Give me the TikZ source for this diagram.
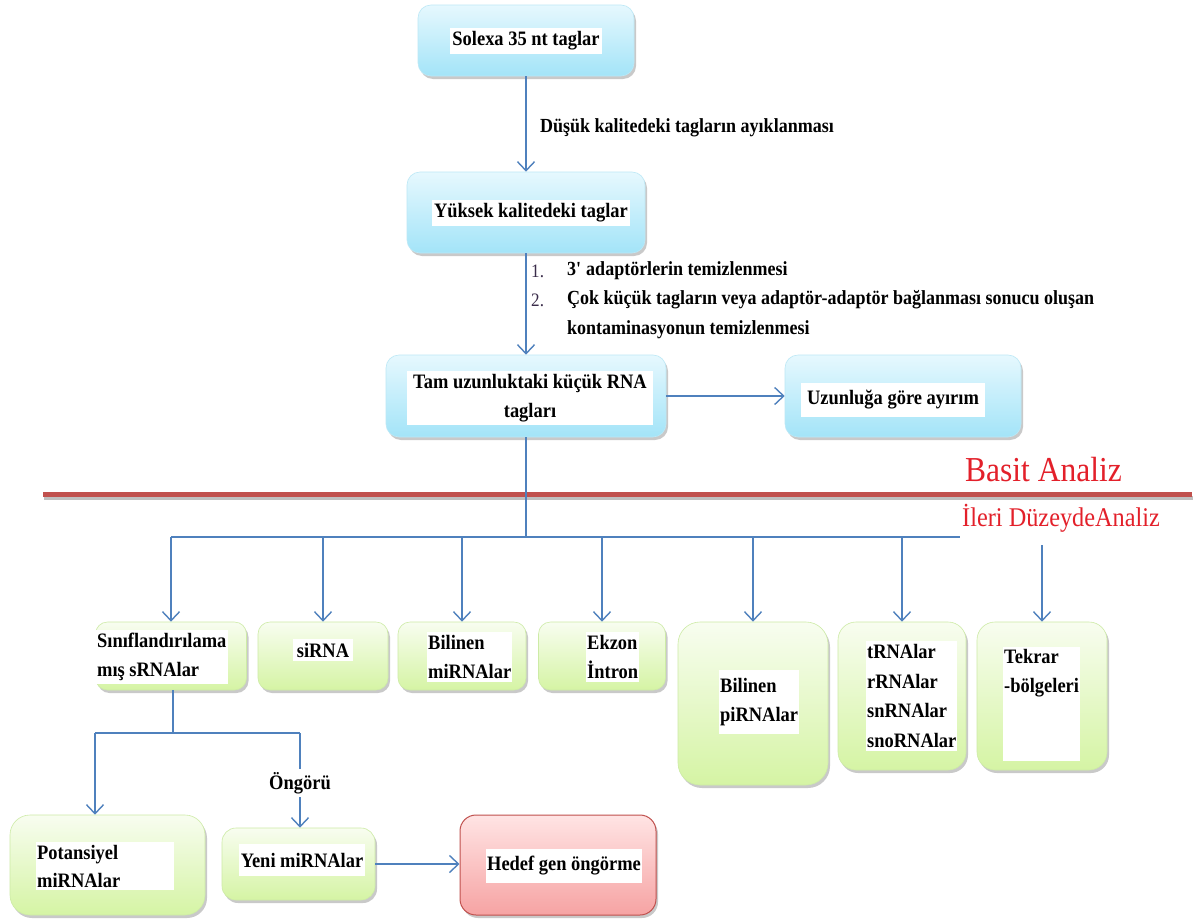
\documentclass[tikz,border=0pt]{standalone}
\usepackage{fontspec}
\setmainfont{Liberation Serif}[FakeStretch=0.9]
\usetikzlibrary{arrows.meta,shadows}
\definecolor{cyanTop}{HTML}{E6F8FE}
\definecolor{cyanBot}{HTML}{A3E4F8}
\definecolor{cyanEdge}{HTML}{BCE8F6}
\definecolor{greenTop}{HTML}{F8FDF0}
\definecolor{greenBot}{HTML}{D5F4A4}
\definecolor{greenEdge}{HTML}{CDEBA6}
\definecolor{redTop}{HTML}{FFE4E4}
\definecolor{redBot}{HTML}{F6A3A3}
\definecolor{redEdge}{HTML}{C0504D}
\definecolor{arrowblue}{HTML}{4F81BD}
\definecolor{sepred}{HTML}{C0504D}
\definecolor{titlered}{HTML}{E3202A}
\definecolor{numcol}{HTML}{3A2C4A}
\newcommand\boxfont{\bfseries\fontsize{20.5}{29.5}\selectfont}
\newcommand\notefont{\bfseries\fontsize{20}{24}\selectfont}
\tikzset{
  shadowed/.style={drop shadow={shadow xshift=2pt,shadow yshift=-3pt,opacity=0.35,fill=black!60}},
  bluebox/.style={shape=rectangle, rounded corners=13pt, top color=cyanTop, bottom color=cyanBot,
    draw=cyanEdge, line width=0.6pt, inner sep=0pt, shadowed},
  greenbox/.style={shape=rectangle, rounded corners=12pt, top color=greenTop, bottom color=greenBot,
    draw=greenEdge, line width=0.6pt, inner sep=0pt, shadowed},
  redbox/.style={shape=rectangle, rounded corners=16pt, top color=redTop, bottom color=redBot,
    draw=redEdge, line width=1pt, inner sep=0pt, shadowed},
  lbl/.style={fill=white, font=\boxfont, inner sep=2pt, align=left},
  clbl/.style={fill=white, font=\boxfont, inner sep=2pt, align=center},
  note/.style={font=\notefont, inner sep=0pt, anchor=west},
  whitebg/.style={fill=white, draw=none, inner sep=0pt, anchor=west},
  title/.style={text=titlered, inner sep=0pt, anchor=west},
  arr/.style={draw=arrowblue, line width=1.5pt, -{Straight Barb[length=9pt,width=17pt,line width=1.4pt]}},
  conn/.style={draw=arrowblue, line width=1.5pt}
}
\begin{document}
\begin{tikzpicture}[x=1pt,y=-1pt]
\useasboundingbox[fill=white] (0,0) rectangle (1203,921);

% ---- upper flow
\node[bluebox, minimum width=216pt, minimum height=71pt] (solexa) at (526,40.5) {};
\node[clbl, inner ysep=4pt] (solexaT) at (526,41) {Solexa 35 nt taglar};

\node[bluebox, minimum width=238pt, minimum height=81pt] (yuksek) at (526,212.5) {};
\node[clbl, inner ysep=4pt] (yuksekT) at (531,213) {Yüksek kalitedeki taglar};

\node[bluebox, minimum width=280pt, minimum height=82pt] (tam) at (526,396) {};
\node[clbl, inner xsep=6pt, inner ysep=3pt] (tamT) at (530,398) {Tam uzunluktaki küçük RNA\\tagları};

\node[bluebox, minimum width=236pt, minimum height=82pt] (uzun) at (903,396) {};
\node[clbl, inner xsep=6pt, inner ysep=8pt] (uzunT) at (893,400) {Uzunluğa göre ayırım};

\draw[arr] (solexa.south) -- (yuksek.north);
\node[note] (dusuk) at (540,128) {Düşük kalitedeki tagların ayıklanması};

\draw[arr] (yuksek.south) -- (tam.north);
\node[note, font=\fontsize{19}{22}\selectfont, text=numcol] (n1) at (531,271) {1.};
\node[note] (t1) at (567,271) {3\textquotesingle\ adaptörlerin temizlenmesi};
\node[note, font=\fontsize{19}{22}\selectfont, text=numcol] (n2) at (531,300) {2.};
\node[note] (t2) at (567,300) {Çok küçük tagların veya adaptör-adaptör bağlanması sonucu oluşan};
\node[note] (t3) at (567,330) {kontaminasyonun temizlenmesi};

\draw[arr] (tam.east) -- (uzun.west);

% ---- separator
\draw[black!25, line width=4pt] (44,498) -- (1193,498);
\draw[sepred, line width=5pt] (43,494.5) -- (1192,494.5);

% ---- second row boxes
\node[greenbox, minimum width=151pt, minimum height=68pt] (sinif) at (171,656) {};
\node[greenbox, minimum width=130pt, minimum height=68pt] (sirna) at (323,656) {};
\node[greenbox, minimum width=128pt, minimum height=68pt] (mirna) at (462,656) {};
\node[greenbox, minimum width=127pt, minimum height=68pt] (ekzon) at (602,656) {};
\node[greenbox, rounded corners=22pt, minimum width=150pt, minimum height=163pt] (pirna) at (753,703.5) {};
\node[greenbox, rounded corners=18pt, minimum width=128pt, minimum height=148pt] (trna) at (902,696) {};
\node[greenbox, rounded corners=18pt, minimum width=130pt, minimum height=148pt] (tekrar) at (1042,696) {};

\node[lbl, anchor=west, inner xsep=2pt, inner ysep=3pt] (sinifT) at (95,657) {Sınıflandırılama\\mış sRNAlar};
\node[lbl, inner sep=4pt] (sirnaT) at (323,650) {siRNA};
\node[lbl, anchor=west, inner sep=1pt, inner ysep=3pt] (mirnaT) at (427,657) {Bilinen\\miRNAlar};
\node[lbl, anchor=west, inner sep=1pt, inner ysep=3pt] (ekzonT) at (586,657) {Ekzon\\İntron};
\node[lbl, anchor=west, inner sep=1pt, inner ysep=8pt] (pirnaT) at (719,702) {Bilinen\\piRNAlar};
\node[lbl, anchor=west, inner sep=1pt, inner ysep=4pt] (trnaT) at (866,696) {tRNAlar\\rRNAlar\\snRNAlar\\snoRNAlar};
\node[lbl, anchor=north west, minimum height=96pt, text depth=66pt, inner xsep=1pt] (tekrarT) at (1003,647) {Tekrar\\-bölgeleri};

% ---- bus
\coordinate (bus) at (526,537);
\draw[conn] (tam.south) -- (bus);
\draw[conn] (sinif.north |- bus) -- (tekrar.north |- bus);
\foreach \b in {sinif,sirna,mirna,ekzon,pirna,trna,tekrar}
  \draw[arr] (\b.north |- bus) -- (\b.north);

% ---- level labels
\node[whitebg, minimum width=230pt, minimum height=44pt] (basitBg) at (961,468) {};
\node[title, font=\fontsize{35}{38}\selectfont] (basit) at (965,470) {Basit Analiz};
\node[whitebg, minimum width=206pt, minimum height=42pt] (ileriBg) at (960,524) {};
\node[title, font=\fontsize{27}{30}\selectfont] (ileri) at (962,518) {İleri DüzeydeAnaliz};

% ---- lower flow
\node[greenbox, rounded corners=20pt, minimum width=195pt, minimum height=100pt] (potan) at (107.5,865) {};
\node[greenbox, rounded corners=14pt, minimum width=153pt, minimum height=72pt] (yeni) at (298.5,864) {};
\node[redbox, minimum width=196pt, minimum height=100pt] (hedef) at (558,865) {};

\node[lbl, anchor=west, text width=136pt, inner sep=1pt, inner ysep=3pt, font=\bfseries\fontsize{20.5}{28}\selectfont] (potanT) at (36,866) {Potansiyel\\miRNAlar};
\node[lbl, inner ysep=9pt, inner xsep=2pt] (yeniT) at (302,860) {Yeni miRNAlar};
\node[lbl, inner ysep=8pt, inner xsep=1pt] (hedefT) at (564,866) {Hedef gen öngörme};

\coordinate (bL) at (95,733);
\coordinate (bR) at (300,733);
\draw[conn] (sinif.south -| 173,0) -- (173,733);
\draw[conn] (bL) -- (bR);
\draw[arr] (bL) -- (bL |- potan.north);
\draw[arr] (bR) -- (bR |- yeni.north);
\node[fill=white, font=\boxfont, inner sep=3pt] (ongoru) at (300,783) {Öngörü};

\draw[arr] (yeni.east) -- (yeni.east -| hedef.west);
\end{tikzpicture}
\end{document}
